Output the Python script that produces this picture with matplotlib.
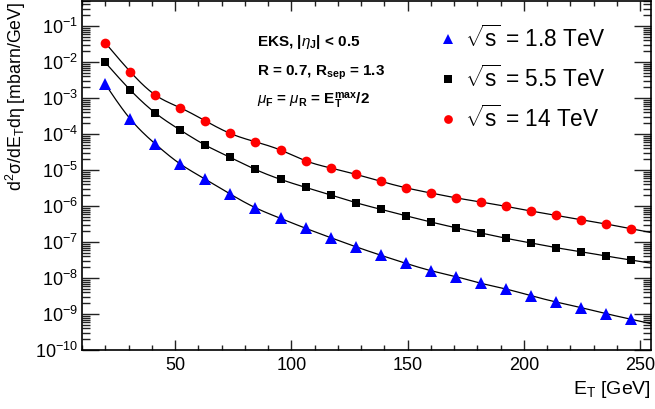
import numpy as np
import matplotlib
matplotlib.use('Agg')
import matplotlib.pyplot as plt
from matplotlib.ticker import LogLocator, MultipleLocator, NullFormatter, LogFormatterSciNotation

plt.rcParams['font.family'] = ['Liberation Sans', 'DejaVu Sans']
plt.rcParams['mathtext.fontset'] = 'custom'
plt.rcParams['mathtext.rm'] = 'Liberation Sans'
plt.rcParams['mathtext.it'] = 'Liberation Sans:italic'
plt.rcParams['mathtext.bf'] = 'Liberation Sans:bold'
plt.rcParams['mathtext.sf'] = 'Liberation Sans'
plt.rcParams['axes.unicode_minus'] = False

# ---- data ----
et = [20.0, 30.8, 41.6, 52.3, 63.0, 73.8, 84.6, 95.4, 106.2, 117.0, 127.8,
      138.6, 149.3, 160.1, 170.9, 181.6, 192.4, 203.2, 214.0, 224.7, 235.5, 246.2]

xs_18 = [2.45e-3, 2.61e-4, 5.27e-5, 1.47e-5, 5.62e-6, 2.15e-6, 8.97e-7, 4.55e-7,
         2.41e-7, 1.32e-7, 7.39e-8, 4.28e-8, 2.56e-8, 1.60e-8, 1.09e-8, 7.13e-9,
         4.94e-9, 3.22e-9, 2.15e-9, 1.50e-9, 1.02e-9, 7.13e-10]
xs_55 = [9.8e-3, 1.67e-3, 3.83e-4, 1.29e-4, 4.95e-5, 2.25e-5, 1.04e-5, 5.52e-6,
         3.30e-6, 2.02e-6, 1.24e-6, 8.09e-7, 5.38e-7, 3.60e-7, 2.49e-7, 1.78e-7,
         1.27e-7, 9.38e-8, 6.95e-8, 5.38e-8, 4.08e-8, 3.16e-8]
xs_14 = [3.44e-2, 5.38e-3, 1.21e-3, 5.38e-4, 2.34e-4, 1.04e-4, 6.10e-5, 3.60e-5,
         1.81e-5, 1.14e-5, 7.60e-6, 4.85e-6, 3.22e-6, 2.30e-6, 1.69e-6, 1.29e-6,
         9.8e-7, 7.26e-7, 5.52e-7, 4.16e-7, 3.16e-7, 2.34e-7]

labels = [r"$\sqrt{\mathrm{s}}$ = 1.8 TeV", r"$\sqrt{\mathrm{s}}$ = 5.5 TeV",
          r"$\sqrt{\mathrm{s}}$ = 14 TeV"]


def spline(x, y, xn):
    x = np.asarray(x, float); y = np.asarray(y, float)
    n = len(x); h = np.diff(x)
    A = np.zeros((n, n)); b = np.zeros(n)
    A[0, 0] = 1; A[-1, -1] = 1
    for i in range(1, n - 1):
        A[i, i - 1] = h[i - 1]; A[i, i] = 2 * (h[i - 1] + h[i]); A[i, i + 1] = h[i]
        b[i] = 3 * ((y[i + 1] - y[i]) / h[i] - (y[i] - y[i - 1]) / h[i - 1])
    c = np.linalg.solve(A, b)
    bc = (y[1:] - y[:-1]) / h - h * (2 * c[:-1] + c[1:]) / 3
    d = (c[1:] - c[:-1]) / (3 * h)
    idx = np.clip(np.searchsorted(x, xn) - 1, 0, n - 2)
    dx = xn - x[idx]
    return y[idx] + bc[idx] * dx + c[idx] * dx ** 2 + d[idx] * dx ** 3


W, H = 655, 409
fig = plt.figure(figsize=(W / 100, H / 100), dpi=100)
ax = fig.add_axes([82 / W, 1 - 350 / H, (651 - 82) / W, (350 - 1) / H])

xmin, xmax = 10, 254.7
ax.set_xlim(xmin, xmax)
ax.set_yscale('log')
ax.set_ylim(1e-10, 0.5)

xf = np.linspace(et[0], xmax, 400)
series = [(xs_18, 'blue', '^', 8.5, labels[0]),
          (xs_55, 'black', 's', 6.0, labels[1]),
          (xs_14, 'red', 'o', 7.0, labels[2])]
for ys, col, mk, ms, lab in series:
    yf = 10 ** spline(et, np.log10(ys), xf)
    ax.plot(xf, yf, color='black', lw=0.9, zorder=2)
for ys, col, mk, ms, lab in series:
    ax.plot(et, ys, linestyle='none', marker=mk, color=col, markersize=ms,
            markeredgewidth=0, label=lab, zorder=3)

# ticks
ax.xaxis.set_major_locator(MultipleLocator(50))
ax.xaxis.set_minor_locator(MultipleLocator(10))
ax.yaxis.set_major_locator(LogLocator(base=10, numticks=20))
ax.yaxis.set_minor_locator(LogLocator(base=10, subs=np.arange(2, 10), numticks=20))
ax.yaxis.set_minor_formatter(NullFormatter())
ax.yaxis.set_major_formatter(LogFormatterSciNotation())
ax.tick_params(axis='both', which='both', direction='in', top=True, right=True,
               width=1.0, color='#222222')
ax.tick_params(axis='x', which='major', length=7.5, labelsize=13, pad=5)
ax.tick_params(axis='x', which='minor', length=3.8)
ax.tick_params(axis='y', which='major', length=12, labelsize=13, pad=3)
ax.tick_params(axis='y', which='minor', length=6)
for s in ax.spines.values():
    s.set_linewidth(1.2)

# labels
fig.text(16 / W, 1 - 2 / H, "d$^{2}$σ/dE$_{\\mathrm{T}}$dη [mbarn/GeV]",
         rotation=90, ha='center', va='top', fontsize=12.8)
fig.text(651 / W, 1 - 394 / H, r"E$_{\mathrm{T}}$ [GeV]", ha='right',
         va='baseline', fontsize=14)

# annotation block
tx = (257 - 82) / (651 - 82)
def ay(py):
    return (350 - py) / 349
ax.text(tx, ay(46), r"EKS, |$\eta_{\mathbf{J}}$| < 0.5", transform=ax.transAxes,
        fontsize=11, fontweight='bold', va='baseline')
ax.text(tx, ay(76), r"R = 0.7, R$_{\mathbf{sep}}$ = 1.3", transform=ax.transAxes,
        fontsize=11, fontweight='bold', va='baseline')
ax.text(tx, ay(105), r"$\mu_{\mathbf{F}}$ = $\mu_{\mathbf{R}}$ = $\mathbf{E_{T}^{max}}$/2",
        transform=ax.transAxes, fontsize=11, fontweight='bold', va='baseline')

leg = ax.legend(loc='upper left', bbox_to_anchor=((439 - 82) / 569, ay(25)),
                frameon=False, fontsize=16.3, handlelength=0.8, handletextpad=0.35,
                labelspacing=0.6, borderpad=0, borderaxespad=0, markerscale=0.9)

fig.savefig('out.png', dpi=100)
